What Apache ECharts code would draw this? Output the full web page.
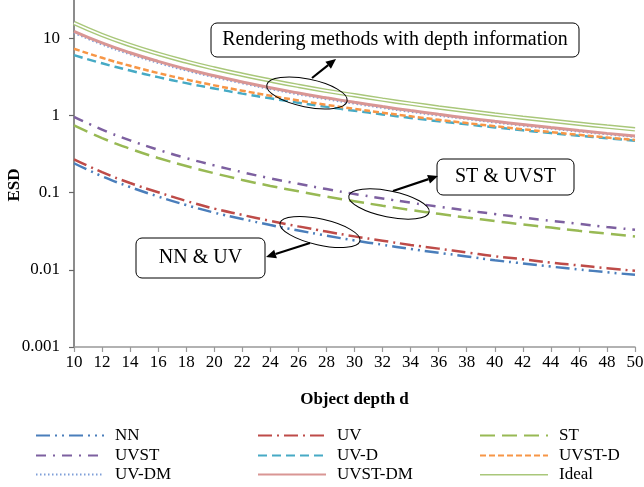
<!DOCTYPE html>
<html>
<head>
<meta charset="utf-8">
<script src="https://cdn.jsdelivr.net/npm/echarts@6/dist/echarts.min.js"></script>
<style>html,body{margin:0;padding:0;background:#fff;overflow:hidden;width:644px;height:487px}#c{position:absolute;left:0;top:-39px;width:644px;height:600px}</style>
</head>
<body>
<div id="c"></div>
<script>
const depth = [10,12,14,16,18,20,22,24,26,28,30,32,34,36,38,40,42,44,46,48,50];
const nn     = [0.24,0.163,0.118,0.089,0.069,0.055,0.0455,0.038,0.0323,0.0277,0.024,0.0211,0.0186,0.0166,0.0149,0.0133,0.0121,0.011,0.0101,0.0093,0.0086];
const uv     = [0.27,0.184,0.133,0.101,0.078,0.062,0.0514,0.043,0.0365,0.0313,0.0271,0.0238,0.021,0.0188,0.0168,0.015,0.0137,0.0124,0.0114,0.0105,0.0097];
const st     = [0.74,0.509,0.370,0.281,0.221,0.178,0.146,0.122,0.104,0.089,0.0773,0.0676,0.0597,0.0531,0.0475,0.0428,0.0386,0.0352,0.032,0.0294,0.027];
const uvst   = [0.96,0.655,0.475,0.359,0.280,0.225,0.184,0.153,0.130,0.111,0.096,0.084,0.074,0.0657,0.0587,0.0527,0.0475,0.0431,0.0393,0.0359,0.033];
const uvD    = [6.03,4.73,3.81,3.13,2.62,2.23,1.915,1.664,1.459,1.29,1.149,1.03,0.928,0.841,0.765,0.699,0.642,0.591,0.546,0.506,0.47];
const uvstD  = [7.3,5.57,4.39,3.54,2.92,2.45,2.09,1.8,1.56,1.37,1.216,1.084,0.972,0.877,0.795,0.724,0.662,0.608,0.56,0.517,0.48];
const uvDM   = [11.7,8.28,6.17,4.78,3.81,3.12,2.6,2.19,1.87,1.62,1.42,1.25,1.11,0.995,0.896,0.81,0.737,0.673,0.617,0.568,0.525];
const uvstDM = [12.3,8.7,6.48,5.01,3.99,3.26,2.71,2.28,1.95,1.69,1.476,1.3,1.154,1.032,0.928,0.838,0.762,0.695,0.636,0.585,0.54];
const ideal  = [15.7,11.0,8.15,6.28,4.98,4.05,3.36,2.83,2.41,2.08,1.82,1.6,1.42,1.267,1.138,1.028,0.933,0.851,0.779,0.716,0.66];

const FONT = '"Liberation Serif", "Times New Roman", serif';
const OFF = 39; // container is shifted up by this many px so that the 100 decade sits above the page
const pairs = arr => depth.map((d, i) => [d, arr[i]]);

function mk(name, arr, color, width, type) {
  return {
    name: name, type: 'line', data: pairs(arr), smooth: true, symbol: 'none',
    showSymbol: false, animation: false,
    lineStyle: { color: color, width: width, type: type },
    itemStyle: { color: color }
  };
}

const GREEN_IDEAL = '#A9C77A';
const series = [
  mk('NN', nn, '#4A7EBB', 2.5, [14,5,2,5,2,5]),
  mk('UV', uv, '#BE4B48', 2.5, [14,5,2,5]),
  mk('ST', st, '#98B954', 2.5, [15,7]),
  mk('UVST', uvst, '#7D60A0', 2.5, [10,7,2,7]),
  mk('UV-D', uvD, '#46AAC5', 2.5, [9,5]),
  mk('UVST-D', uvstD, '#F79646', 2.5, [6,3]),
  mk('UV-DM', uvDM, '#7E9ED8', 2, [1.5,2.5]),
  mk('UVST-DM', uvstDM, '#D99694', 3, 'solid'),
  mk('Ideal', ideal, GREEN_IDEAL, 4.5, 'solid'),
  mk('IdealInner', ideal, '#ffffff', 1.6, 'solid')
];

function arrow(x1, y1, x2, y2) {
  y1 += OFF; y2 += OFF;
  const dx = x2 - x1, dy = y2 - y1, L = Math.hypot(dx, dy);
  const ux = dx / L, uy = dy / L, hl = 10, hw = 4.5;
  const bx = x2 - ux * hl, by = y2 - uy * hl;
  const px = -uy * hw, py = ux * hw;
  return [
    { type: 'line', z: 100, shape: { x1: x1, y1: y1, x2: bx, y2: by }, style: { stroke: '#000', lineWidth: 2.2 } },
    { type: 'polygon', z: 100, shape: { points: [[x2, y2], [bx + px, by + py], [bx - px, by - py]] }, style: { fill: '#000' } }
  ];
}
function box(x, y, w, h, text) {
  y += OFF;
  return [
    { type: 'rect', z: 100, shape: { x: x, y: y, width: w, height: h, r: 6 }, style: { fill: '#fff', stroke: '#000', lineWidth: 1 } },
    { type: 'text', z: 101, x: x + w / 2, y: y + h / 2, style: { text: text, font: '20px ' + FONT, fill: '#000', align: 'center', verticalAlign: 'middle' } }
  ];
}
function ell(cx, cy, rx, ry, rot) {
  return { type: 'ellipse', z: 100, x: cx, y: cy + OFF, rotation: rot, shape: { cx: 0, cy: 0, rx: rx, ry: ry }, style: { fill: 'none', stroke: '#000', lineWidth: 1 } };
}

const graphic = [].concat(
  box(211, 23, 368, 34, 'Rendering methods with depth information'),
  arrow(312, 78, 336, 59),
  [ell(307, 93, 41, 14, -0.2)],
  box(437, 159, 137, 36, 'ST & UVST'),
  arrow(393, 191, 438, 176),
  [ell(389, 204, 41, 13, -0.2)],
  box(136, 238, 129, 40, 'NN & UV'),
  arrow(310, 243, 266, 257),
  [ell(320, 232, 41, 13, -0.22)],
  [{ type: 'text', z: 50, x: 15, y: 185 + OFF, rotation: Math.PI / 2,
     style: { text: 'ESD', font: 'bold 17px ' + FONT, fill: '#000', align: 'center', verticalAlign: 'middle' } }]
);

// legend layout: 3 columns x 3 rows
const legendNames = [['NN', 'UVST', 'UV-DM'], ['UV', 'UV-D', 'UVST-DM'], ['ST', 'UVST-D', 'Ideal']];
const colLeft = [35, 257, 479];
const rowTop = [427, 447, 466];
const IW = 68, IH = 14;
function legendAt(name, left, top, extra) {
  return Object.assign({
    show: true, orient: 'horizontal', left: left, top: top + OFF, padding: 0,
    itemWidth: IW, itemHeight: IH, selectedMode: false,
    itemStyle: { opacity: 0 },
    textStyle: { fontFamily: FONT, fontSize: 17, color: '#000', padding: [0, 0, 0, 6] },
    data: [name]
  }, extra || {});
}
const legends = [];
legendNames.forEach((col, c) => col.forEach((nm, r) => legends.push(legendAt(nm, colLeft[c], rowTop[r]))));
legends.push(legendAt('IdealInner', colLeft[2], rowTop[2], { formatter: () => '', z: 10 }));

const option = {
  animation: false,
  backgroundColor: '#fff',
  grid: { left: 74, right: 9, top: 0, bottom: 214, containLabel: false, outerBoundsMode: 'none' },
  xAxis: {
    type: 'value', min: 10, max: 50, interval: 2,
    name: 'Object depth d', nameLocation: 'middle', nameGap: 44,
    nameTextStyle: { fontFamily: FONT, fontSize: 17, fontWeight: 'bold', color: '#000' },
    axisLine: { lineStyle: { color: '#999', width: 1.5 } },
    axisTick: { show: true, inside: false, length: 5, lineStyle: { color: '#999', width: 1.2 } },
    axisLabel: { fontFamily: FONT, fontSize: 17, color: '#000', margin: 7 },
    splitLine: { show: false }
  },
  yAxis: {
    type: 'log', logBase: 10, min: 0.001, max: 100,
    axisLine: { show: true, lineStyle: { color: '#666', width: 1.5 } },
    axisTick: { show: true, inside: false, length: 5, lineStyle: { color: '#666', width: 1.2 } },
    axisLabel: { fontFamily: FONT, fontSize: 17, color: '#000', margin: 14,
      formatter: v => String(parseFloat(Number(v).toPrecision(6))) },
    splitLine: { show: false },
    minorTick: { show: false }
  },
  legend: legends,
  graphic: graphic,
  series: series
};

const chart = echarts.init(document.getElementById('c'), null, { renderer: 'canvas' });
chart.setOption(option);
</script>
</body>
</html>
